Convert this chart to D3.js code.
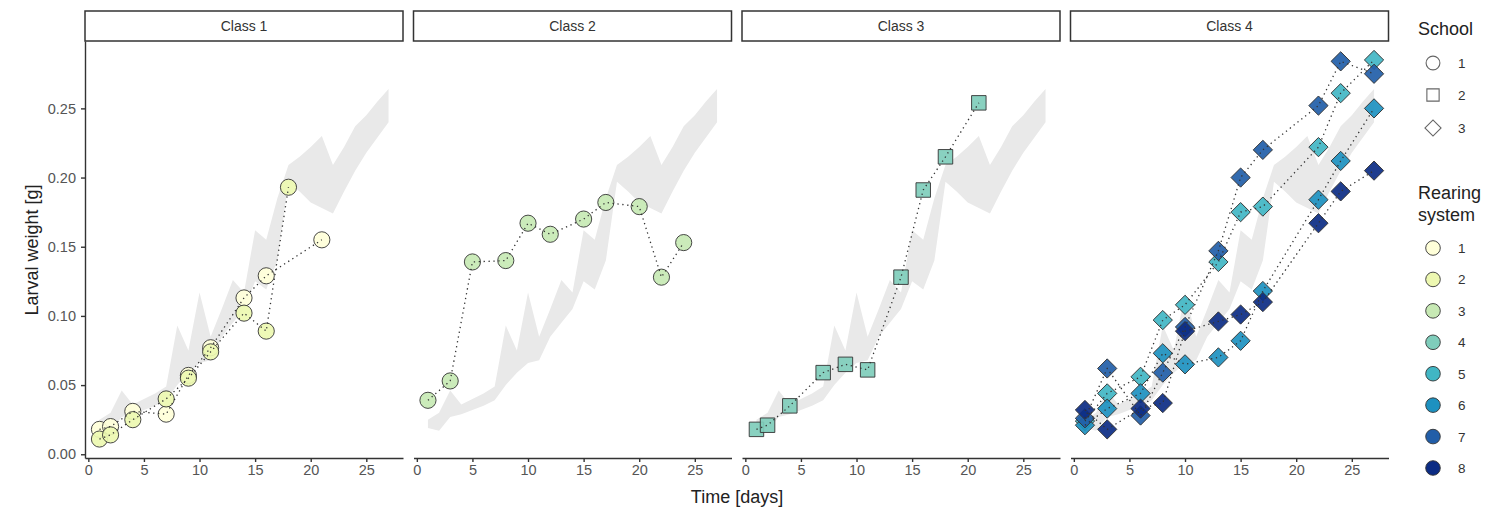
<!DOCTYPE html>
<html>
<head>
<meta charset="utf-8">
<script src="https://cdn.jsdelivr.net/npm/d3@7"></script>
<style>
  body { margin: 0; background: #fff; }
  svg { font-family: "Liberation Sans", Arial, sans-serif; }
  .axis path, .axis line { stroke: #333; stroke-width: 1.4; }
  .axis text { fill: #555; font-size: 14.5px; }
</style>
</head>
<body>
<div id="chart"></div>
<script>
// facet labels
var classNames = ["Class 1", "Class 2", "Class 3", "Class 4"];
var xTicks = [0, 5, 10, 15, 20, 25];
var yTicks = [0, 0.05, 0.10, 0.15, 0.20, 0.25];
var schoolLabels = ["1", "2", "3"];
var rearingLabels = ["1", "2", "3", "4", "5", "6", "7", "8"];
var rearingColors = ["#ffffd9", "#edf8b1", "#c7e9b4", "#7fcdbb", "#41b6c4", "#1d91c0", "#225ea8", "#0c2c84"];

// grey reference band (same in every panel)
var bandDays = [1, 2, 3, 4, 5, 6, 7, 8, 9, 10, 11, 12, 13, 14, 15, 16, 17, 18, 19, 20, 21, 22, 23, 24, 25, 26, 27];
var bandLow  = [0.019, 0.017, 0.027, 0.029, 0.032, 0.035, 0.039, 0.050, 0.059, 0.066, 0.068, 0.085, 0.095, 0.105, 0.125, 0.119, 0.140, 0.197, 0.190, 0.182, 0.178, 0.174, 0.190, 0.205, 0.218, 0.229, 0.240];
var bandHigh = [0.025, 0.030, 0.046, 0.036, 0.040, 0.044, 0.049, 0.093, 0.075, 0.117, 0.085, 0.105, 0.126, 0.117, 0.162, 0.155, 0.185, 0.209, 0.215, 0.222, 0.230, 0.209, 0.222, 0.237, 0.245, 0.255, 0.264];

// Class 1, school 1
var c1r1Days = [1, 2, 4, 7, 9, 11, 14, 16, 21];
var c1r1Weight = [0.018, 0.020, 0.031, 0.029, 0.057, 0.077, 0.113, 0.129, 0.155];
var c1r2Days = [1, 2, 4, 7, 9, 11, 14, 16, 18];
var c1r2Weight = [0.011, 0.014, 0.025, 0.040, 0.055, 0.074, 0.102, 0.089, 0.193];
// Class 2, school 1
var c2r3Days = [1, 3, 5, 8, 10, 12, 15, 17, 20, 22, 24];
var c2r3Weight = [0.039, 0.053, 0.139, 0.140, 0.167, 0.159, 0.170, 0.182, 0.179, 0.128, 0.153];
// Class 3, school 2
var c3r4Days = [1, 2, 4, 7, 9, 11, 14, 16, 18, 21];
var c3r4Weight = [0.018, 0.021, 0.035, 0.059, 0.065, 0.061, 0.128, 0.191, 0.215, 0.254];
// Class 4, school 3
var c4Days = [1, 3, 6, 8, 10, 13, 15, 17, 22, 24, 27];
var c4r5Weight = [0.024, 0.044, 0.056, 0.097, 0.108, 0.139, 0.175, 0.179, 0.222, 0.261, 0.285];
var c4r6Weight = [0.021, 0.033, 0.044, 0.073, 0.065, 0.070, 0.082, 0.118, 0.184, 0.212, 0.250];
var c4r7Weight = [0.026, 0.062, 0.028, 0.059, 0.092, 0.147, 0.200, 0.220, 0.252, 0.284, 0.275];
var c4r8Weight = [0.032, 0.018, 0.033, 0.037, 0.089, 0.096, 0.101, 0.110, 0.167, 0.190, 0.205];

var series = [
    { panel: 0, school: 0, rearing: 0, days: c1r1Days, weight: c1r1Weight },
    { panel: 0, school: 0, rearing: 1, days: c1r2Days, weight: c1r2Weight },
    { panel: 1, school: 0, rearing: 2, days: c2r3Days, weight: c2r3Weight },
    { panel: 2, school: 1, rearing: 3, days: c3r4Days, weight: c3r4Weight },
    { panel: 3, school: 2, rearing: 4, days: c4Days, weight: c4r5Weight },
    { panel: 3, school: 2, rearing: 5, days: c4Days, weight: c4r6Weight },
    { panel: 3, school: 2, rearing: 6, days: c4Days, weight: c4r7Weight },
    { panel: 3, school: 2, rearing: 7, days: c4Days, weight: c4r8Weight }
];

var width = 1504, height = 510;
var panelW = 318, panelStep = 328.5, panelLeft = 85;
var stripTop = 11, stripH = 30;
var plotTop = stripTop + stripH, plotBottom = 458;

var svg = d3.select("#chart").append("svg")
    .attr("width", width)
    .attr("height", height);

var x = d3.scaleLinear().domain([-0.3, 28.3]).range([0, panelW]);
var y = d3.scaleLinear().domain([-0.0027, 0.2987]).range([plotBottom, plotTop]);

// shape per school: circle, square, diamond (rotated square)
function shapePath(school) {
    if (school === 0) return d3.symbol().type(d3.symbolCircle).size(205)();
    if (school === 1) return d3.symbol().type(d3.symbolSquare).size(210)();
    return d3.symbol().type(d3.symbolSquare).size(185)();
}
function shapeRot(school) { return school === 2 ? " rotate(45)" : ""; }

var band = d3.area()
    .x(function (d) { return x(d[0]); })
    .y0(function (d) { return y(d[1]); })
    .y1(function (d) { return y(d[2]); });
var bandData = bandDays.map(function (d, i) { return [d, bandLow[i], bandHigh[i]]; });

var line = d3.line()
    .x(function (d) { return x(d[0]); })
    .y(function (d) { return y(d[1]); });

classNames.forEach(function (name, i) {
    var g = svg.append("g")
        .attr("transform", "translate(" + (panelLeft + i * panelStep) + ",0)");

    // strip
    g.append("rect")
        .attr("x", 0).attr("y", stripTop)
        .attr("width", panelW).attr("height", stripH)
        .attr("fill", "#fff").attr("stroke", "#333").attr("stroke-width", 1.5);
    g.append("text")
        .attr("x", panelW / 2).attr("y", stripTop + stripH / 2 + 5)
        .attr("text-anchor", "middle")
        .attr("fill", "#333")
        .style("font-size", "14px")
        .text(name);

    g.append("path")
        .datum(bandData)
        .attr("d", band)
        .attr("fill", "#e9e9e9");

    var ps = series.filter(function (s) { return s.panel === i; });

    // points
    ps.forEach(function (s) {
        g.selectAll(null)
            .data(s.days.map(function (d, k) { return [d, s.weight[k]]; }))
            .enter().append("path")
            .attr("d", shapePath(s.school))
            .attr("transform", function (d) {
                return "translate(" + x(d[0]) + "," + y(d[1]) + ")" + shapeRot(s.school);
            })
            .attr("fill", rearingColors[s.rearing])
            .attr("fill-opacity", 0.92)
            .attr("stroke", "#333")
            .attr("stroke-width", 0.9);
    });

    // dotted lines on top
    ps.forEach(function (s) {
        g.append("path")
            .datum(s.days.map(function (d, k) { return [d, s.weight[k]]; }))
            .attr("d", line)
            .attr("fill", "none")
            .attr("stroke", "#333")
            .attr("stroke-width", 1.3)
            .attr("stroke-dasharray", "1.3,3.6");
    });

    g.append("g")
        .attr("class", "axis")
        .attr("transform", "translate(0," + plotBottom + ")")
        .call(d3.axisBottom(x).tickValues(xTicks).tickSize(4).tickSizeOuter(0).tickPadding(3));

    if (i === 0) {
        g.append("g")
            .attr("class", "axis")
            .call(d3.axisLeft(y).tickValues(yTicks).tickFormat(d3.format(".2f"))
                .tickSize(4).tickSizeOuter(0).tickPadding(5));
    }
});

// axis titles
svg.append("text")
    .attr("x", 737).attr("y", 503)
    .attr("text-anchor", "middle")
    .attr("fill", "#222")
    .style("font-size", "18px")
    .text("Time [days]");

svg.append("text")
    .attr("transform", "translate(38,250) rotate(-90)")
    .attr("text-anchor", "middle")
    .attr("fill", "#222")
    .style("font-size", "18px")
    .text("Larval weight [g]");

// legends
var leg = svg.append("g");
var legX = 1433;
leg.append("text")
    .attr("x", 1418).attr("y", 35)
    .attr("fill", "#222").style("font-size", "18px")
    .text("School");

var schoolY = [63, 95, 128];
schoolLabels.forEach(function (lab, i) {
    leg.append("path")
        .attr("d", i === 0 ? d3.symbol().type(d3.symbolCircle).size(150)()
            : d3.symbol().type(d3.symbolSquare).size(i === 1 ? 150 : 130)())
        .attr("transform", "translate(" + legX + "," + schoolY[i] + ")" + shapeRot(i))
        .attr("fill", "none")
        .attr("stroke", "#666")
        .attr("stroke-width", 1.1);
    leg.append("text")
        .attr("x", 1458).attr("y", schoolY[i] + 5)
        .attr("fill", "#333").style("font-size", "13.5px")
        .text(lab);
});

leg.append("text")
    .attr("x", 1418).attr("y", 199)
    .attr("fill", "#222").style("font-size", "18px")
    .text("Rearing");
leg.append("text")
    .attr("x", 1418).attr("y", 221)
    .attr("fill", "#222").style("font-size", "18px")
    .text("system");

var rearY = d3.scaleLinear().domain([0, 7]).range([248, 468]);
rearingLabels.forEach(function (lab, i) {
    leg.append("circle")
        .attr("cx", legX).attr("cy", rearY(i)).attr("r", 7.3)
        .attr("fill", rearingColors[i])
        .attr("stroke", "#333").attr("stroke-width", 0.9);
    leg.append("text")
        .attr("x", 1458).attr("y", rearY(i) + 5)
        .attr("fill", "#333").style("font-size", "13.5px")
        .text(lab);
});
</script>
</body>
</html>
